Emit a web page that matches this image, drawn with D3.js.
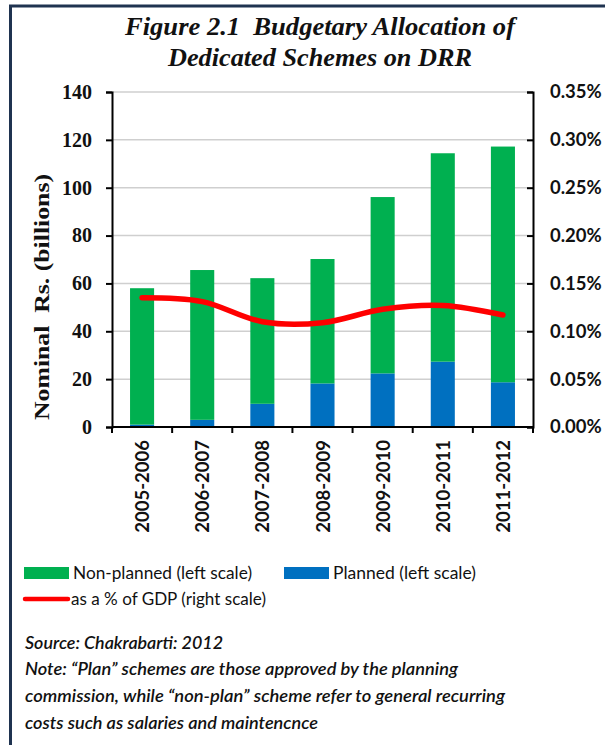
<!DOCTYPE html>
<html>
<head>
<meta charset="utf-8">
<script src="https://cdn.jsdelivr.net/npm/d3@7/dist/d3.min.js"></script>
<style>
	body { margin: 0; background: #fff; }
	svg { display: block; }
	text { white-space: pre; }
</style>
</head>
<body>
<script>
// values (Rs. billions, share of GDP in %)
var years = ["2005-2006", "2006-2007", "2007-2008", "2008-2009", "2009-2010", "2010-2011", "2011-2012"];
var planned = [1, 3, 9.7, 18.2, 22.4, 27.3, 18.7];
var nonPlanned = [57, 62.6, 52.5, 52, 73.7, 87.1, 98.5];
var gdpShare = [0.135, 0.131, 0.110, 0.109, 0.123, 0.127, 0.117];
var leftTicks = [0, 20, 40, 60, 80, 100, 120, 140];
var rightTicks = [0, 0.05, 0.10, 0.15, 0.20, 0.25, 0.30, 0.35];

var width = 605, height = 745;
var plot = {left: 112, right: 533, top: 92, bottom: 427};
var green = "#00b050", blue = "#0070c0", red = "#ff0000";
var serif = "'Liberation Serif', 'DejaVu Serif', serif";
var sans = "Lato, 'Noto Sans', sans-serif";

var svg = d3.select("body").append("svg")
	.attr("width", width).attr("height", height);

// frame (left and top edges only are visible)
svg.append("path")
	.attr("d", "M10.5," + height + "V6H" + width)
	.attr("fill", "none").attr("stroke", "#1f3350").attr("stroke-width", 3);

// title
var title = svg.append("g")
	.attr("font-family", serif).attr("font-weight", "bold").attr("font-style", "italic")
	.attr("font-size", 25).attr("fill", "#111");
title.append("text").attr("x", 125).attr("y", 35)
	.attr("textLength", 390).attr("lengthAdjust", "spacingAndGlyphs")
	.text("Figure 2.1  Budgetary Allocation of");
title.append("text").attr("x", 168).attr("y", 66)
	.attr("textLength", 304).attr("lengthAdjust", "spacingAndGlyphs")
	.text("Dedicated Schemes on DRR");

var x = d3.scaleBand().domain(years)
	.range([plot.left, plot.right]).paddingInner(0.6).paddingOuter(0.3);
var yL = d3.scaleLinear().domain([0, 140]).range([plot.bottom, plot.top]);
var yR = d3.scaleLinear().domain([0, 0.35]).range([plot.bottom, plot.top]);

// gridlines
svg.append("g").selectAll("line")
	.data(leftTicks.slice(1))
	.enter().append("line")
	.attr("x1", plot.left).attr("x2", plot.right)
	.attr("y1", function(d) { return yL(d); })
	.attr("y2", function(d) { return yL(d); })
	.attr("stroke", "#cfcfcf").attr("stroke-width", 1.5);

// stacked bars
var rows = years.map(function(y, i) {
	return {year: y, planned: planned[i], nonPlanned: nonPlanned[i]};
});
var stack = d3.stack().keys(["planned", "nonPlanned"])(rows);
var colors = {planned: blue, nonPlanned: green};

svg.append("g").selectAll("g")
	.data(stack)
	.enter().append("g")
	.attr("fill", function(s) { return colors[s.key]; })
	.selectAll("rect")
	.data(function(s) { return s; })
	.enter().append("rect")
	.attr("x", function(d) { return x(d.data.year); })
	.attr("y", function(d) { return yL(d[1]); })
	.attr("width", x.bandwidth())
	.attr("height", function(d) { return yL(d[0]) - yL(d[1]); });

// left axis
var leftAxis = svg.append("g")
	.attr("transform", "translate(" + plot.left + ",0)")
	.call(d3.axisLeft(yL).tickValues(leftTicks).tickSize(6).tickPadding(14));
leftAxis.selectAll("text")
	.attr("font-family", serif).attr("font-weight", "bold").attr("font-size", 20).attr("fill", "#111");

// right axis, ticks pointing inwards
var rightAxis = svg.append("g")
	.attr("transform", "translate(" + plot.right + ",0)")
	.call(d3.axisRight(yR).tickValues(rightTicks).tickSize(-6).tickPadding(17)
		.tickFormat(function(d) { return d3.format(".2f")(d) + "%"; }));
rightAxis.selectAll("text")
	.attr("font-family", sans).attr("font-weight", "bold").attr("font-size", 18.5).attr("fill", "#111");

[leftAxis, rightAxis].forEach(function(a) {
	a.select(".domain").attr("stroke", "#000").attr("stroke-width", 2);
	a.selectAll(".tick line").attr("stroke", "#000").attr("stroke-width", 2);
});

// category axis
var edges = years.map(function(d) { return x(d) - x.step() * x.paddingInner() / 2; });
edges.push(plot.right);
var xAxis = svg.append("g");
xAxis.append("line")
	.attr("x1", plot.left).attr("x2", plot.right)
	.attr("y1", plot.bottom).attr("y2", plot.bottom)
	.attr("stroke", "#000").attr("stroke-width", 2);
xAxis.selectAll(".edge")
	.data(edges)
	.enter().append("line")
	.attr("class", "edge")
	.attr("x1", function(d) { return d; }).attr("x2", function(d) { return d; })
	.attr("y1", plot.bottom).attr("y2", plot.bottom + 6)
	.attr("stroke", "#000").attr("stroke-width", 2);
xAxis.selectAll(".lbl")
	.data(years)
	.enter().append("text")
	.attr("class", "lbl")
	.attr("transform", function(d) {
		return "translate(" + (x(d) + x.bandwidth() / 2 + 7) + "," + (plot.bottom + 13) + ") rotate(-90)";
	})
	.attr("text-anchor", "end")
	.attr("font-family", sans).attr("font-weight", "bold").attr("font-size", 18.5).attr("fill", "#111")
	.text(function(d) { return d; });

// GDP share line
var line = d3.line()
	.x(function(d, i) { return x(years[i]) + x.bandwidth() / 2; })
	.y(function(d) { return yR(d); })
	.curve(d3.curveCatmullRom.alpha(0.5));
svg.append("path")
	.datum(gdpShare)
	.attr("d", line)
	.attr("fill", "none").attr("stroke", red).attr("stroke-width", 5.5)
	.attr("stroke-linecap", "round").attr("stroke-linejoin", "round");

// y title
svg.append("text")
	.attr("transform", "translate(49,297) rotate(-90)")
	.attr("text-anchor", "middle")
	.attr("font-family", serif).attr("font-weight", "bold").attr("font-size", 22).attr("fill", "#111")
	.attr("textLength", 246).attr("lengthAdjust", "spacingAndGlyphs")
	.text("Nominal  Rs. (billions)");

// legend
var legend = svg.append("g").attr("font-family", sans).attr("font-size", 17).attr("fill", "#111");
var items = [
	{label: "Non-planned (left scale)", color: green, kind: "box", x: 24, y: 573, w: 179},
	{label: "Planned (left scale)", color: blue, kind: "box", x: 284, y: 573, w: 143},
	{label: "as a % of GDP (right scale)", color: red, kind: "line", x: 23, y: 599, w: 195}
];
items.forEach(function(it) {
	if (it.kind === "box") {
		legend.append("rect").attr("x", it.x).attr("y", it.y - 6)
			.attr("width", 45).attr("height", 12).attr("fill", it.color);
	} else {
		legend.append("line").attr("x1", it.x + 2).attr("x2", it.x + 45)
			.attr("y1", it.y).attr("y2", it.y)
			.attr("stroke", it.color).attr("stroke-width", 4.5).attr("stroke-linecap", "round");
	}
	legend.append("text").attr("x", it.x + (it.kind === "box" ? 49 : 48)).attr("y", it.y + 6)
		.attr("textLength", it.w).attr("lengthAdjust", "spacingAndGlyphs")
		.text(it.label);
});

// source and note
var notes = [
	{text: "Source: Chakrabarti: 2012", y: 649, w: 198},
	{text: "Note: \u201cPlan\u201d schemes are those approved by the planning", y: 675, w: 433},
	{text: "commission, while \u201cnon-plan\u201d scheme refer to general recurring", y: 702, w: 480},
	{text: "costs such as salaries and maintencnce", y: 729, w: 293}
];
svg.append("g")
	.attr("font-family", sans).attr("font-style", "italic").attr("font-weight", 600)
	.attr("font-size", 17).attr("fill", "#111")
	.selectAll("text")
	.data(notes)
	.enter().append("text")
	.attr("x", 25)
	.attr("y", function(d) { return d.y; })
	.attr("textLength", function(d) { return d.w; })
	.attr("lengthAdjust", "spacingAndGlyphs")
	.text(function(d) { return d.text; });
</script>
</body>
</html>
